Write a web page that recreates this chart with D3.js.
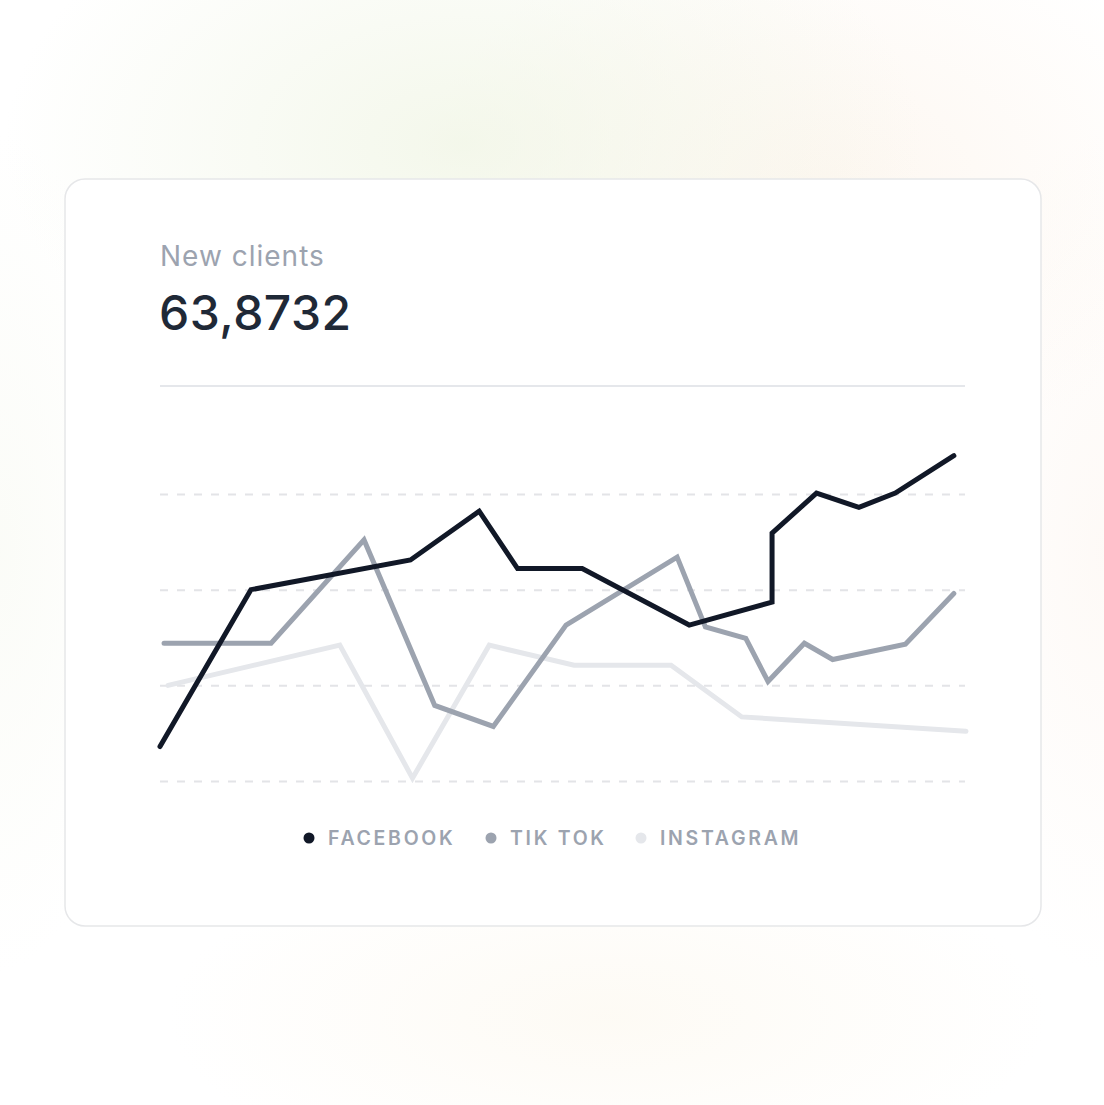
<!DOCTYPE html>
<html>
<head>
<meta charset="utf-8">
<script src="https://cdn.jsdelivr.net/npm/d3@7"></script>
<style>
  html, body { margin: 0; padding: 0; }
  body {
    width: 1104px; height: 1105px; overflow: hidden;
    font-family: Inter, "Noto Sans", sans-serif;
    background:
      radial-gradient(ellipse 460px 280px at 42% 13%, rgba(240, 245, 228, 0.75), rgba(255,255,255,0) 100%),
      radial-gradient(ellipse 400px 280px at 74% 17%, rgba(252, 241, 230, 0.6), rgba(255,255,255,0) 100%),
      radial-gradient(ellipse 440px 170px at 55% 92%, rgba(252, 247, 236, 0.55), rgba(255,255,255,0) 100%),
      radial-gradient(ellipse 170px 420px at 100% 50%, rgba(252, 243, 236, 0.45), rgba(255,255,255,0) 100%),
      radial-gradient(ellipse 140px 420px at 0% 50%, rgba(246, 248, 238, 0.45), rgba(255,255,255,0) 100%),
      #ffffff;
  }
</style>
</head>
<body>
<div class="container"></div>
<script>
const title = 'New clients';
const total = '63,8732';

const seriesNames = ['FACEBOOK', 'TIK TOK', 'INSTAGRAM'];
const seriesColors = ['#111827', '#9ca3af', '#e5e7eb'];

// x in days, y in clients
const facebook = [
  [0, 36], [4.5, 200], [12.4, 231], [15.8, 282], [17.7, 222], [20.9, 222],
  [26.2, 163], [30.3, 187], [30.3, 259], [32.5, 301], [34.6, 286], [36.4, 301], [39.3, 340]
];
const tiktok = [
  [0.2, 144], [5.5, 144], [10.1, 252], [13.6, 79], [16.5, 57], [20.1, 163],
  [25.6, 234], [27.0, 161], [29.0, 149], [30.1, 104], [31.9, 144], [33.3, 127], [36.9, 143], [39.3, 196]
];
const instagram = [
  [0.4, 100], [8.9, 142], [12.5, 3], [16.3, 142], [20.5, 121], [25.3, 121], [28.8, 67], [39.9, 52]
];

const gridValues = [0, 100, 200, 300];

const width = 1104;
const height = 1105;

const card = { x: 65, y: 179, w: 976, h: 747 };
const plotLeft = 160;
const plotRight = 968;
const plotTop = 494;
const plotBottom = 781;

const x = d3.scaleLinear().domain([0, 40]).range([plotLeft, plotRight]);
const y = d3.scaleLinear().domain([0, 300]).range([plotBottom, plotTop]);

const svg = d3.select('.container')
  .append('svg')
  .attr('width', width)
  .attr('height', height);

svg.append('rect')
  .attr('x', card.x)
  .attr('y', card.y)
  .attr('width', card.w)
  .attr('height', card.h)
  .attr('rx', 20)
  .attr('fill', '#ffffff')
  .attr('stroke', '#e6e7e9')
  .attr('stroke-width', 1.5);

svg.append('text')
  .attr('x', 160)
  .attr('y', 266)
  .attr('fill', '#9ca3af')
  .attr('font-size', 28)
  .attr('letter-spacing', 1)
  .text(title);

svg.append('text')
  .attr('x', 159)
  .attr('y', 330)
  .attr('fill', '#1f2937')
  .attr('font-size', 48)
  .attr('font-weight', 500)
  .attr('letter-spacing', 0.5)
  .text(total);

svg.append('line')
  .attr('x1', 160)
  .attr('x2', 965)
  .attr('y1', 386)
  .attr('y2', 386)
  .attr('stroke', '#e5e7eb')
  .attr('stroke-width', 2);

// dashed grid
const grid = svg.append('g')
  .attr('transform', `translate(${plotLeft}, 0)`)
  .call(d3.axisLeft(y).tickValues(gridValues).tickSize(-(plotRight - plotLeft - 3)).tickFormat(''));
grid.select('.domain').remove();
grid.selectAll('.tick line')
  .attr('stroke', '#e3e4e7')
  .attr('stroke-width', 2)
  .attr('stroke-dasharray', '8 9');

const line = d3.line().x((d) => x(d[0])).y((d) => y(d[1]));

const allSeries = [instagram, tiktok, facebook];
const allColors = [seriesColors[2], seriesColors[1], seriesColors[0]];

svg.append('g')
  .selectAll('path')
  .data(allSeries)
  .enter()
  .append('path')
  .attr('d', line)
  .attr('fill', 'none')
  .attr('stroke', (d, i) => allColors[i])
  .attr('stroke-width', 5)
  .attr('stroke-linejoin', 'miter')
  .attr('stroke-linecap', 'round');

// legend
const legendX = [309, 491, 641];
const legend = svg.append('g')
  .selectAll('g')
  .data(seriesNames)
  .enter()
  .append('g')
  .attr('transform', (d, i) => `translate(${legendX[i]}, 838)`);

legend.append('circle')
  .attr('r', 5.5)
  .attr('fill', (d, i) => seriesColors[i]);

legend.append('text')
  .attr('x', 19)
  .attr('y', 7)
  .attr('fill', '#9ca3af')
  .attr('font-size', 19.5)
  .attr('font-weight', 600)
  .attr('letter-spacing', 2.7)
  .text((d) => d);
</script>
</body>
</html>
